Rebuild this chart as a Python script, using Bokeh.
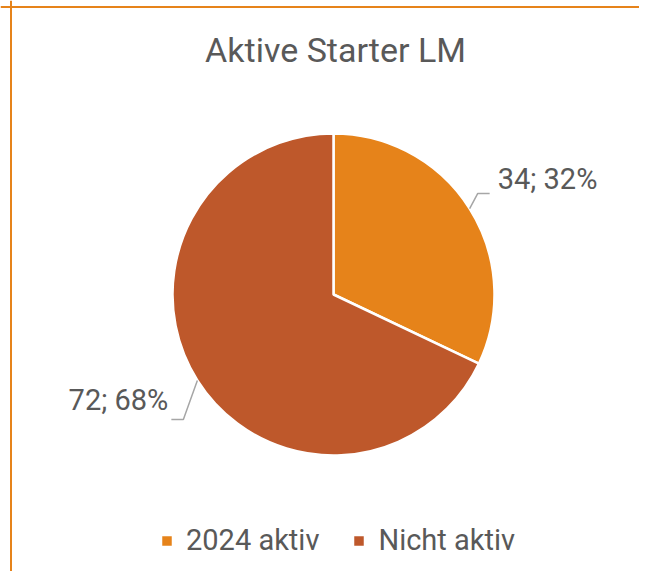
import numpy as np
from bokeh.plotting import figure
from bokeh.models import ColumnDataSource, Range1d, Span, Legend, LegendItem
from bokeh.embed import file_html
from bokeh.resources import INLINE
from bokeh.core.properties import value

# ---- data ----
categories = ["2024 aktiv", "Nicht aktiv"]
counts = [34, 72]
percents = [32, 68]
colors = ["#E6831A", "#BE582B"]
title_text = "Aktive Starter LM"

FONT = "Roboto"
TEXT_COLOR = "#595959"

W, H = 639, 571
p = figure(width=W, height=H, output_backend="svg", toolbar_location=None,
           x_range=Range1d(0, 639), y_range=Range1d(8, 579), min_border=0)
p.axis.visible = False
p.grid.visible = False
p.outline_line_color = None
p.background_fill_color = "white"
p.border_fill_color = "white"

# ---- pie ----
cx, cy, r = 333, 285, 161
vals = np.array(counts, dtype=float)
frac = vals / vals.sum()
cum = np.concatenate([[0], np.cumsum(frac)])
a0 = np.pi / 2 - 2 * np.pi * cum[:-1]
a1 = np.pi / 2 - 2 * np.pi * cum[1:]
src = ColumnDataSource(dict(cat=categories, start=a1, end=a0, color=colors,
                            x=[cx] * len(counts), y=[cy] * len(counts)))
wr = p.wedge(x="x", y="y", radius=r, start_angle="start", end_angle="end",
             fill_color="color", line_color="white", line_width=2.5, source=src)

# ---- leader lines & labels ----
mid = (a0 + a1) / 2
px = cx + r * np.cos(mid)
py = cy + r * np.sin(mid)
xs, ys, lx, ly, aligns, texts = [], [], [], [], [], []
for i in range(len(counts)):
    if np.cos(mid[i]) >= 0:
        ex, ey = px[i] + 8, py[i] + 15
        hx = ex + 12
        xs.append([px[i], ex, hx]); ys.append([py[i], ey, ey])
        lx.append(hx + 8); ly.append(ey + 15); aligns.append("left")
    else:
        ex, ey = px[i] - 14, py[i] - 39
        hx = ex - 12
        xs.append([px[i], ex, hx]); ys.append([py[i], ey, ey])
        lx.append(hx - 3); ly.append(ey + 19); aligns.append("right")
    texts.append(f"{counts[i]}; {percents[i]}%")
p.multi_line(xs=xs, ys=ys, line_color="#A6A6A6", line_width=1.5)
lsrc = ColumnDataSource(dict(x=lx, y=ly, t=texts, a=aligns))
p.text(x="x", y="y", text="t", text_align="a", text_baseline="alphabetic",
       text_font=value(FONT), text_font_size="29px", text_color=TEXT_COLOR, source=lsrc)

# ---- title ----
p.text(x=[335], y=[530], text=[title_text], text_align="center", text_baseline="alphabetic",
       text_font=value(FONT), text_font_size="34px", text_color=TEXT_COLOR)

# ---- chart border (partial, cropped) ----
p.add_layout(Span(location=10.5, dimension="height", line_color="#E6831A", line_width=2))
p.add_layout(Span(location=572.5, dimension="width", line_color="#E6831A", line_width=2))

# ---- legend ----
items = [LegendItem(label=categories[i], renderers=[wr], index=i) for i in range(len(categories))]
legend = Legend(items=items, location=(159, 14), orientation="horizontal",
                border_line_color=None, background_fill_alpha=0, padding=0, margin=0,
                glyph_width=15, glyph_height=15, label_standoff=12, spacing=32,
                label_text_font=FONT, label_text_font_size="29px",
                label_text_color=TEXT_COLOR, label_height=30)
p.add_layout(legend)

open("out.html", "w").write(file_html(p, INLINE))
